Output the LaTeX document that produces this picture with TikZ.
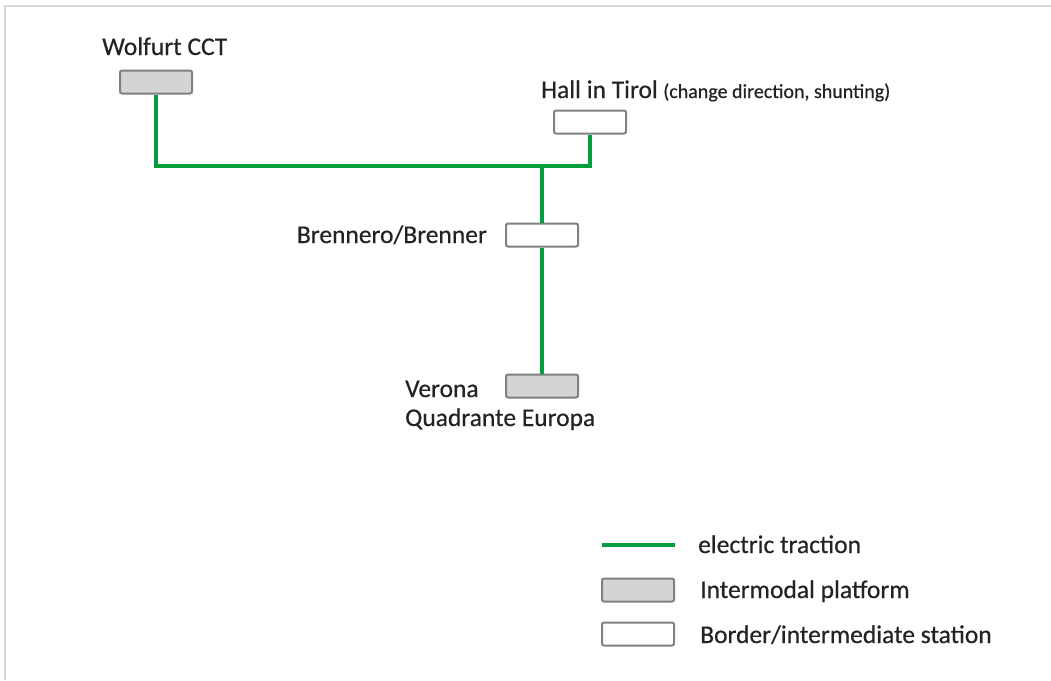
\documentclass[tikz,border=0pt]{standalone}
\usepackage{fontspec}
\setmainfont[FakeBold=0.5]{Carlito}
\definecolor{traction}{RGB}{0,158,60}
\definecolor{boxline}{RGB}{128,128,128}
\definecolor{platfill}{RGB}{212,212,212}
\definecolor{txt}{RGB}{35,35,35}
\definecolor{frame}{RGB}{215,215,215}
\begin{document}
\begin{tikzpicture}[x=1pt,y=-1pt,
  station/.style={draw=boxline,line width=2pt,rounded corners=2pt,minimum width=72pt,minimum height=23pt,inner sep=0pt,fill=white},
  platform/.style={station,fill=platfill},
  track/.style={draw=traction,line width=4.8pt},
  lbl/.style={text=txt,inner sep=0pt,font=\fontsize{25.5}{28}\selectfont},
  note/.style={text=txt,inner sep=0pt,font=\fontsize{20}{22}\selectfont}]
\useasboundingbox (0,0) rectangle (1051,680);
% frame
\draw[frame,line width=2pt] (5,680) -- (5,6) -- (1051,6);
% stations
\node[platform] (wolf) at (156,82) {};
\node[station] (hall) at (590,122) {};
\node[station] (bren) at (542,235) {};
\node[platform] (vero) at (542,386) {};
% junction points
\coordinate (wj) at (156,166);
\coordinate (hj) at (590,166);
\coordinate (bj) at (542,166);
% track
\draw[track,line join=miter] (wolf.south) -- (wj) -- (hj) -- (hall.south);
\draw[track] (bj) -- (bren.north);
\draw[track] (bren.south) -- (vero.north);
% labels
\node[lbl,anchor=base west] (wolfl) at (102,55) {Wolfurt CCT};
\node[lbl,anchor=base west] (halll) at (541,98) {Hall in Tirol};
\node[note,anchor=base west] (halln) at ([xshift=5pt]halll.base east) {(change direction, shunting)};
\node[lbl,anchor=base east] (brenl) at (487,243) {Brennero/Brenner};
\node[lbl,anchor=base west] (verl1) at (405,397) {Verona};
\node[lbl,anchor=base west] (verl2) at (405,426) {Quadrante Europa};
% legend
\coordinate (lga) at (602,545);
\coordinate (lgb) at (675,545);
\draw[track] (lga) -- (lgb);
\node[lbl,anchor=base west] (lgt1) at (698,553) {electric traction};
\node[platform] (lgp) at (638,590) {};
\node[lbl,anchor=base west] (lgt2) at (700,598) {Intermodal platform};
\node[station] (lgs) at (638,634) {};
\node[lbl,anchor=base west] (lgt3) at (700,643) {Border/intermediate station};
\end{tikzpicture}
\end{document}
